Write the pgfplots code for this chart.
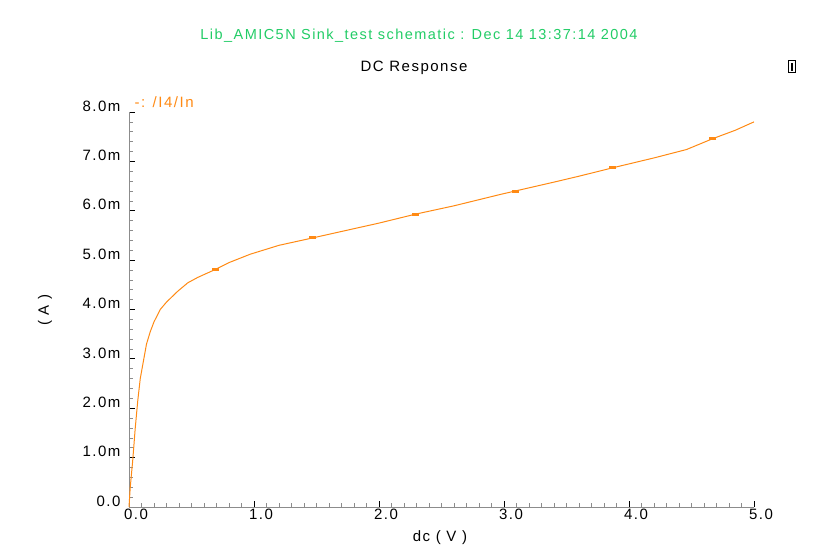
\documentclass[border=0pt]{standalone}
\usepackage{fontspec}
\setmainfont{Liberation Sans}
\newfontfamily\wide[LetterSpace=10]{Liberation Sans}
\usepackage{pgfplots}
\pgfplotsset{compat=1.18}
\definecolor{trace}{HTML}{FF8A14}
\definecolor{hdr}{HTML}{22CC66}
\definecolor{axgray}{HTML}{8C8C8C}

\begin{document}
\begin{tikzpicture}[x=1pt,y=1pt]
\path[use as bounding box] (0,0) rectangle (815,547);
\begin{axis}[
  at={(129pt,40pt)}, anchor=south west,
  width=625pt, height=395pt, scale only axis,
  xmin=0, xmax=5, ymin=0, ymax=8,
  axis x line=bottom, axis y line=left,
  axis line style={-,draw=axgray,line width=0.8pt},
  tick align=inside,
  major tick length=6pt, minor tick length=4pt,
  every major tick/.append style={draw=black,line width=0.8pt},
  every minor tick/.append style={draw=axgray,line width=0.7pt},
  xtick={0,1,2,3,4,5}, xticklabels={0.0,1.0,2.0,3.0,4.0,5.0},
  ytick={0,1,2,3,4,5,6,7,8},
  yticklabels={0.0,1.0m,2.0m,3.0m,4.0m,5.0m,6.0m,7.0m,8.0m},
  minor x tick num=9, minor y tick num=4,
  xticklabel style={font=\wide\fontsize{15}{17}\selectfont,xshift=7pt,yshift=2pt},
  yticklabel style={font=\wide\fontsize{15}{17}\selectfont,yshift=6pt,xshift=-5pt},
  clip=false]
  \addplot[color=trace,line width=1pt] coordinates {
    (0,0) (0.01,0.4) (0.03,0.95) (0.05,1.6) (0.07,2.15) (0.09,2.6)
    (0.115,2.95) (0.14,3.3) (0.17,3.55) (0.2,3.75) (0.25,4.0) (0.3,4.15)
    (0.39,4.37) (0.47,4.54) (0.55,4.65) (0.69,4.81) (0.8,4.95) (0.97,5.12)
    (1.2,5.3) (1.47,5.45) (1.77,5.62) (2.0,5.75) (2.29,5.93) (2.6,6.1)
    (2.97,6.33) (3.09,6.40) (3.4,6.58) (3.6,6.7) (3.87,6.87) (4.2,7.07)
    (4.46,7.24) (4.67,7.46) (4.85,7.63) (5.0,7.80)};
  \addplot[only marks,color=trace,mark=-,mark size=3.5pt,
    mark options={line width=3pt}] coordinates {
    (0.69,4.81) (1.47,5.45) (2.29,5.93) (3.09,6.40) (3.87,6.87) (4.67,7.46)};
\end{axis}
\node[text=hdr,font=\wide\fontsize{14.5}{16}\selectfont] at (419,511)
  {Lib\_AMIC5N Sink\_test schematic : Dec 14 13:37:14 2004};
\node[font=\wide\fontsize{15}{17}\selectfont] at (414,479) {DC Response};
\draw[line width=1pt] (788.5,474) rectangle (795.5,486);
\draw[line width=1.2pt] (792,476) -- (792,484);
\node[text=trace,anchor=west,font=\wide\fontsize{15}{17}\selectfont] at (131,445) {-: /I4/In};
\node[rotate=90,font=\wide\fontsize{15}{17}\selectfont] at (45,237) {( A )};
\node[font=\wide\fontsize{15}{17}\selectfont] at (440,9) {dc ( V )};
\end{tikzpicture}
\end{document}
